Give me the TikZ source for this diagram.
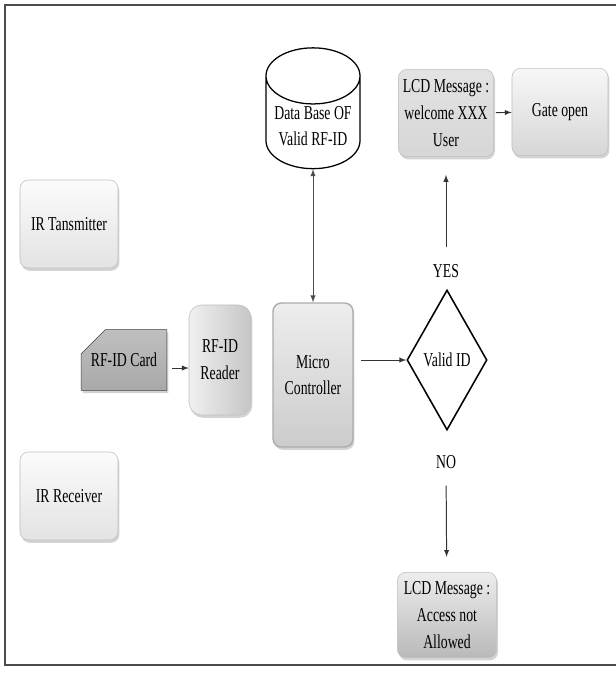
\documentclass[tikz,border=0pt]{standalone}
\usepackage{fontspec}
\setmainfont{Liberation Serif}[FakeStretch=0.7]
\usetikzlibrary{arrows,positioning,shapes,shadows}

\begin{document}
\begin{tikzpicture}[x=0.025cm,y=-0.025cm,font=\fontsize{14}{19}\selectfont,
   box/.style={rounded corners=6pt,draw=gray!50,align=center,inner sep=1pt,top color=gray!6,bottom color=gray!32,
      drop shadow={opacity=0.35,shadow xshift=1pt,shadow yshift=-2pt}},
   arr/.style={-latex,line width=0.7pt,black!80}]
   \useasboundingbox (0,0) rectangle (616,677);
   \draw[gray!60!black,line width=1.2pt] (620,5) -- (5,5) -- (5,665) -- (620,665);

   \node[cylinder,shape border rotate=90,aspect=0.7,draw,line width=0.9pt,fill=white,align=center,
         minimum width=2.35cm,minimum height=3cm,inner sep=1pt] (db) at (313,126) {Data Base OF\\Valid RF-ID};
   \node[box,minimum width=2.38cm,minimum height=2.18cm,top color=gray!22,bottom color=gray!32] (lcdok) at (446,113) {LCD Message :\\welcome XXX\\User};
   \node[box,minimum width=2.4cm,minimum height=2.18cm] (gate) at (560,112) {Gate open};
   \node[box,minimum width=2.45cm,minimum height=2.2cm,top color=gray!3,bottom color=gray!22] (irtx) at (69,224) {IR Tansmitter};
   \node[box,minimum width=2.45cm,minimum height=2.2cm,top color=gray!3,bottom color=gray!22] (irrx) at (69,496) {IR Receiver};
   \node[chamfered rectangle,chamfered rectangle corners=north west,chamfered rectangle xsep=0.45cm,chamfered rectangle ysep=0.4cm,
         draw=gray!50!black,top color=gray!50,bottom color=gray!68,minimum width=1.9cm,minimum height=1.52cm,inner sep=1pt,
         drop shadow={opacity=0.35,shadow xshift=1pt,shadow yshift=-2pt}] (card) at (124,360) {RF-ID Card};
   \node[box,rounded corners=9pt,minimum width=1.55cm,minimum height=2.75cm,left color=gray!12,right color=gray!45] (reader) at (220,360) {RF-ID\\Reader};
   \node[box,draw=gray!65,line width=1pt,minimum width=2cm,minimum height=3.6cm,top color=gray!14,bottom color=gray!40] (micro) at (313,375) {Micro\\Controller};
   \node[diamond,draw,line width=1.1pt,fill=white,minimum width=2cm,minimum height=3.5cm,inner sep=0pt] (valid) at (447,360) {Valid ID};
   \node[box,minimum width=2.48cm,minimum height=2.13cm,top color=gray!14,bottom color=gray!55] (lcdno) at (447,615) {LCD Message :\\Access not\\Allowed};

   \node (yes) at (446,271) {YES};
   \node (no) at (446,462) {NO};

   \draw[arr,latex-latex,gray!60!black] (db) -- (micro);
   \draw[arr,shorten <=0.12cm] ([yshift=-0.2cm]card.east) -- ([yshift=-0.2cm]card.east -| reader.west);
   \draw[arr,shorten <=0.18cm] (micro.east |- valid.west) -- (valid.west);
   \draw[arr,shorten <=0.3cm,shorten >=0.45cm] (yes) -- (lcdok);
   \draw[arr,shorten <=0.3cm,shorten >=0.38cm] (no) -- (lcdno);
   \draw[arr,shorten <=0.05cm] (lcdok) -- (gate);
\end{tikzpicture}
\end{document}
